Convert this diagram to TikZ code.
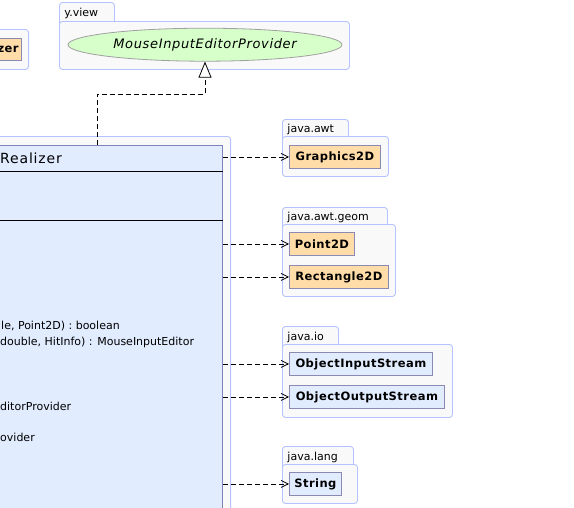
\documentclass[tikz,border=0pt]{standalone}
\usepackage{fontspec}
\setmainfont{DejaVu Sans}
\usetikzlibrary{arrows.meta,shapes.geometric,positioning}

\definecolor{pkgfill}{RGB}{249,249,249}
\definecolor{pkgline}{RGB}{180,195,255}
\definecolor{clsline}{RGB}{138,138,180}
\definecolor{clsorange}{RGB}{255,220,168}
\definecolor{clsblue}{RGB}{226,236,255}
\definecolor{ellfill}{RGB}{214,255,202}
\definecolor{ellline}{RGB}{160,160,160}

\begin{document}
\begin{tikzpicture}[x=1pt, y=-1pt,
    pkg/.style={draw=pkgline, fill=pkgfill, rounded corners=3pt, line width=0.9pt, anchor=north west, inner sep=0pt},
    pkgtab/.style={pkg, align=left, inner xsep=5pt, inner ysep=0pt, text height=8pt, text depth=2.5pt, font=\fontsize{11}{13}\selectfont},
    cls/.style={draw=clsline, line width=0.8pt, anchor=north west, inner sep=0pt, minimum height=23pt, font=\fontsize{11.5}{13}\selectfont\bfseries\addfontfeature{LetterSpace=4}},
    member/.style={anchor=west, inner sep=0pt, font=\fontsize{11}{13}\selectfont},
    dep/.style={dash pattern=on 5pt off 3pt, line width=0.8pt, -{Straight Barb[length=7pt,width=7pt]}},
    realize/.style={dash pattern=on 5pt off 3pt, line width=0.8pt, -{Triangle[open,length=16pt,width=13pt,fill=white]}}
  ]
  \useasboundingbox (0,0) rectangle (574,507);
  \clip (0,0) rectangle (574,507);

  % --- package tabs ---
  \node[pkgtab, text width=45pt, minimum height=23pt] (tview) at (59,2) {y.view};
  \node[pkgtab, text width=56pt, minimum height=21pt] (tawt) at (282,119) {java.awt};
  \node[pkgtab, text width=95pt, minimum height=21pt] (tgeom) at (282,207) {java.awt.geom};
  \node[pkgtab, text width=46pt, minimum height=22pt] (tio) at (282,326) {java.io};
  \node[pkgtab, text width=61pt, minimum height=22pt] (tlang) at (282,446) {java.lang};

  % --- package bodies ---
  \node[pkg, minimum width=40pt, minimum height=40pt, anchor=north east] (pzer) at (29,29) {};
  \node[pkg, minimum width=290pt, minimum height=48pt] (pview) at (59,21) {};
  \node[pkg, minimum width=250pt, minimum height=480pt, anchor=north east] (prealizer) at (231,136) {};
  \node[pkg, minimum width=106pt, minimum height=40pt] (pawt) at (282,136) {};
  \node[pkg, minimum width=113pt, minimum height=72pt] (pgeom) at (282,224) {};
  \node[pkg, minimum width=170pt, minimum height=73pt] (pio) at (282,344) {};
  \node[pkg, minimum width=75pt, minimum height=39pt] (plang) at (282,464) {};

  % --- classes ---
  \node[cls, fill=clsorange, anchor=north east, inner xsep=3pt, minimum height=22pt] (zer) at (22,38) {zer};
  \node[ellipse, draw=ellline, fill=ellfill, line width=0.8pt, minimum width=274pt, minimum height=33pt, inner sep=0pt,
        font=\fontsize{13}{15}\selectfont\itshape\addfontfeature{LetterSpace=5}] (provider) at (205,44.7) {MouseInputEditorProvider};
  \node[cls, fill=clsorange, minimum width=91pt] (g2d) at (289,145) {Graphics2D};
  \node[cls, fill=clsorange, minimum width=65pt] (point) at (289,232) {Point2D};
  \node[cls, fill=clsorange, minimum width=99pt] (rect) at (289,265) {Rectangle2D};
  \node[cls, fill=clsblue, minimum width=143pt] (ois) at (289,352) {ObjectInputStream};
  \node[cls, fill=clsblue, minimum width=155pt] (oos) at (289,385) {ObjectOutputStream};
  \node[cls, fill=clsblue, minimum width=52pt] (str) at (289,472) {String};

  % --- the realizer class ---
  \node[cls, fill=clsblue, draw={rgb,255:red,125;green,132;blue,185}, minimum width=240pt, minimum height=470pt, anchor=north east] (realizer) at (223,145) {};
  \draw[line width=0.8pt] (realizer.west |- 0,171) -- (realizer.east |- 0,171);
  \draw[line width=0.8pt] (realizer.west |- 0,220) -- (realizer.east |- 0,220);
  \node[member, font=\fontsize{14}{16}\selectfont\addfontfeature{LetterSpace=6}] (title) at (0,158.5) {Realizer};
  \node[member] (m1) at (1,326) {le, Point2D) : boolean};
  \node[member] (m2) at (0,342) {double, HitInfo) : MouseInputEditor};
  \node[member] (m3) at (0,406) {ditorProvider};
  \node[member] (m4) at (0,437) {ovider};

  % --- connectors ---
  \coordinate (bend) at (97,94);
  \draw[realize] (bend |- realizer.north) -- (bend) -| (provider.south);
  \draw[dep] (realizer.east |- g2d.west) -- (g2d.west);
  \draw[dep] (realizer.east |- point.west) -- (point.west);
  \draw[dep] (realizer.east |- rect.west) -- (rect.west);
  \draw[dep] (realizer.east |- ois.west) -- (ois.west);
  \draw[dep] (realizer.east |- oos.west) -- (oos.west);
  \draw[dep] (realizer.east |- str.west) -- (str.west);
\end{tikzpicture}
\end{document}
